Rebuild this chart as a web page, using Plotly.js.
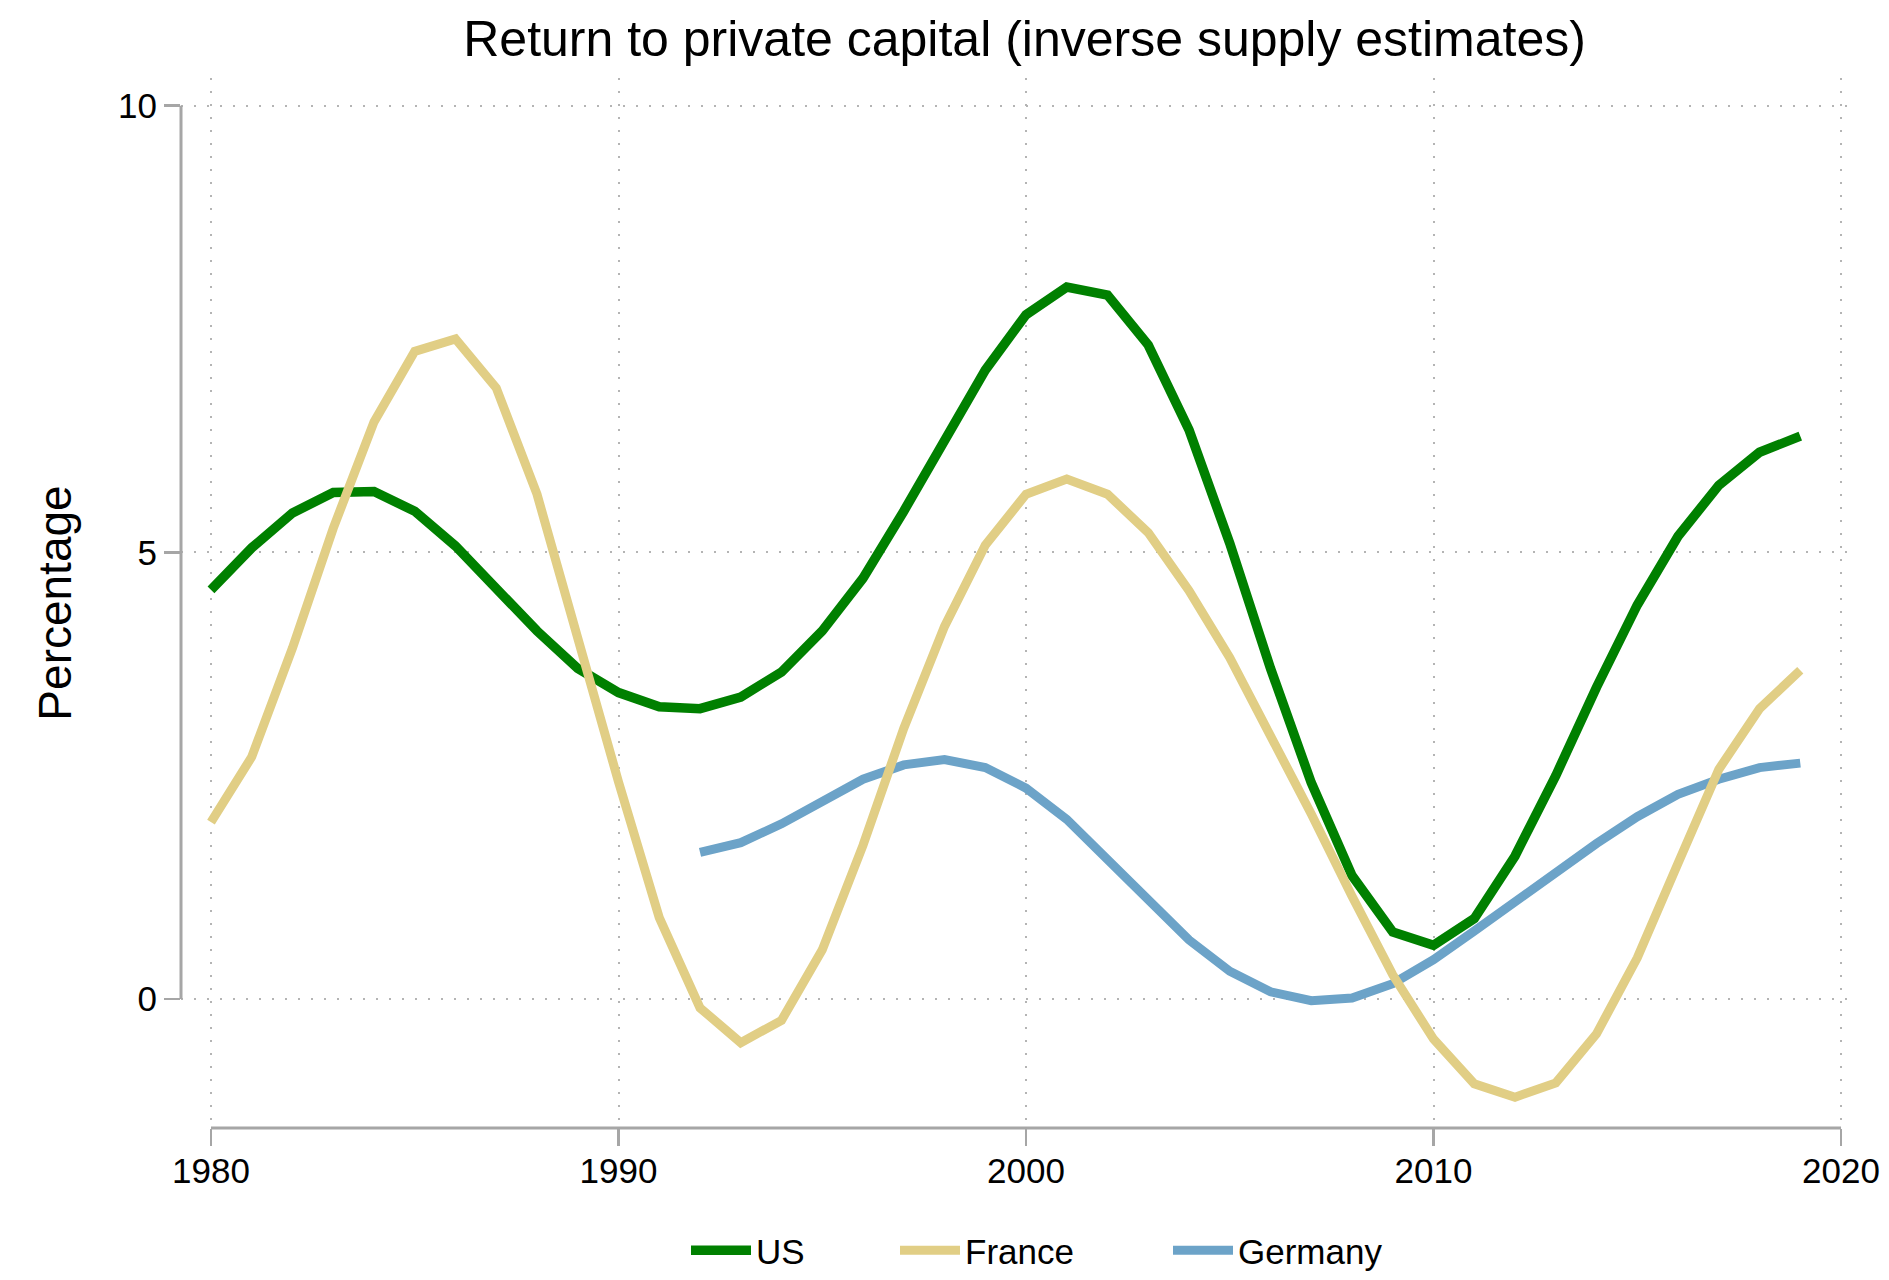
<!DOCTYPE html>
<html>
<head>
<meta charset="utf-8">
<script src="https://cdn.plot.ly/plotly-3.0.1.min.js"></script>
<style>
  html, body { margin: 0; padding: 0; background: #ffffff; }
  #chart { width: 1889px; height: 1280px; }
</style>
</head>
<body>
<div id="chart"></div>
<script>
// ---- Data ----
const years = [1980, 1981, 1982, 1983, 1984, 1985, 1986, 1987, 1988, 1989,
               1990, 1991, 1992, 1993, 1994, 1995, 1996, 1997, 1998, 1999,
               2000, 2001, 2002, 2003, 2004, 2005, 2006, 2007, 2008, 2009,
               2010, 2011, 2012, 2013, 2014, 2015, 2016, 2017, 2018, 2019];

const usValues = [4.58, 5.05, 5.44, 5.67, 5.68, 5.46, 5.07, 4.60, 4.12, 3.70,
                  3.43, 3.27, 3.25, 3.38, 3.66, 4.12, 4.71, 5.46, 6.26, 7.04,
                  7.66, 7.97, 7.88, 7.32, 6.37, 5.10, 3.70, 2.42, 1.38, 0.75,
                  0.60, 0.90, 1.60, 2.50, 3.49, 4.41, 5.18, 5.75, 6.12, 6.30];

const franceValues = [1.98, 2.71, 3.93, 5.27, 6.46, 7.25, 7.39, 6.84, 5.65, 4.02,
                      2.43, 0.91, -0.10, -0.49, -0.24, 0.55, 1.72, 3.03, 4.17, 5.08,
                      5.65, 5.82, 5.65, 5.22, 4.57, 3.82, 2.96, 2.07, 1.15, 0.27,
                      -0.45, -0.95, -1.10, -0.94, -0.39, 0.46, 1.52, 2.57, 3.25, 3.68];

const germanyYears = [1992, 1993, 1994, 1995, 1996, 1997, 1998, 1999,
                      2000, 2001, 2002, 2003, 2004, 2005, 2006, 2007, 2008, 2009,
                      2010, 2011, 2012, 2013, 2014, 2015, 2016, 2017, 2018, 2019];

const germanyValues = [1.64, 1.75, 1.96, 2.21, 2.46, 2.62, 2.68, 2.59,
                       2.36, 2.01, 1.56, 1.09, 0.66, 0.31, 0.08, -0.02, 0.01, 0.17,
                       0.44, 0.76, 1.09, 1.41, 1.74, 2.04, 2.29, 2.46, 2.59, 2.64];

const seriesNames = ['US', 'France', 'Germany'];
const xTickValues = [1980, 1990, 2000, 2010, 2020];
const xTickLabels = ['1980', '1990', '2000', '2010', '2020'];
const yTickValues = [0, 5, 10];
const yTickLabels = ['0', '5', '10'];
const chartTitle = 'Return to private capital (inverse supply estimates)';
const yAxisTitle = 'Percentage';

// ---- Styles ----
const FONT = 'Arial, "Liberation Sans", Helvetica, sans-serif';
const AXIS_GRAY = '#a6a6a6';
const GRID_GRAY = '#b4b4b4';
const COLORS = { us: '#008000', france: '#e1ce85', germany: '#6ca3c8' };

const traces = [
  { type: 'scatter', mode: 'lines', name: seriesNames[0], x: years, y: usValues,
    line: { color: COLORS.us, width: 9.5 }, legend: 'legend' },
  { type: 'scatter', mode: 'lines', name: seriesNames[2], x: germanyYears, y: germanyValues,
    line: { color: COLORS.germany, width: 9 }, legend: 'legend3' },
  { type: 'scatter', mode: 'lines', name: seriesNames[1], x: years, y: franceValues,
    line: { color: COLORS.france, width: 9 }, legend: 'legend2' }
];

const legendCommon = {
  orientation: 'h', xref: 'paper', yref: 'container', xanchor: 'left', yanchor: 'bottom',
  y: 0, bgcolor: 'rgba(0,0,0,0)', borderwidth: 0,
  font: { family: FONT, size: 35, color: '#000' }, itemwidth: 60
};

const layout = {
  width: 1889, height: 1280,
  margin: { l: 181, r: 39, t: 78, b: 152, pad: 0, autoexpand: false },
  paper_bgcolor: '#ffffff', plot_bgcolor: '#ffffff',
  font: { family: FONT, size: 35, color: '#000' },
  title: {
    text: chartTitle, font: { family: FONT, size: 50, color: '#000' },
    xref: 'container', x: 0.5424, xanchor: 'center',
    yref: 'container', y: 0.970, yanchor: 'middle'
  },
  xaxis: {
    range: [1979.264, 2020.22], tickmode: 'array', tickvals: xTickValues, ticktext: xTickLabels,
    ticks: 'outside', ticklen: 17, tickwidth: 2.5, tickcolor: AXIS_GRAY,
    showline: false, zeroline: false,
    showgrid: true, gridcolor: GRID_GRAY, gridwidth: 2, griddash: '2px,11px',
    tickfont: { family: FONT, size: 35, color: '#000' }, ticklabelstandoff: -5,
    fixedrange: true
  },
  yaxis: {
    range: [-1.445, 10.31], tickmode: 'array', tickvals: yTickValues, ticktext: yTickLabels,
    ticks: 'outside', ticklen: 16, tickwidth: 2.5, tickcolor: AXIS_GRAY,
    showline: false, zeroline: false,
    showgrid: true, gridcolor: GRID_GRAY, gridwidth: 2, griddash: '2px,11px',
    tickfont: { family: FONT, size: 35, color: '#000' }, ticklabelstandoff: 0,
    title: { text: yAxisTitle, font: { family: FONT, size: 46, color: '#000' }, standoff: 31 },
    fixedrange: true
  },
  showlegend: true,
  legend: Object.assign({}, legendCommon, { x: (756 - 70 - 181) / 1669 }),
  legend2: Object.assign({}, legendCommon, { x: (965 - 70 - 181) / 1669 }),
  legend3: Object.assign({}, legendCommon, { x: (1238 - 70 - 181) / 1669 }),
  shapes: [
    // y axis line spanning 0..10
    { type: 'line', layer: 'above', xref: 'paper', x0: 0, x1: 0, yref: 'y',
      y0: yTickValues[0], y1: yTickValues[yTickValues.length - 1],
      line: { color: AXIS_GRAY, width: 3 } },
    // x axis line spanning 1980..2020
    { type: 'line', layer: 'above', xref: 'x', x0: xTickValues[0], x1: xTickValues[xTickValues.length - 1],
      yref: 'paper', y0: 0, y1: 0, line: { color: AXIS_GRAY, width: 3 } }
  ]
};

Plotly.newPlot('chart', traces, layout, { staticPlot: true, displayModeBar: false });
</script>
</body>
</html>
